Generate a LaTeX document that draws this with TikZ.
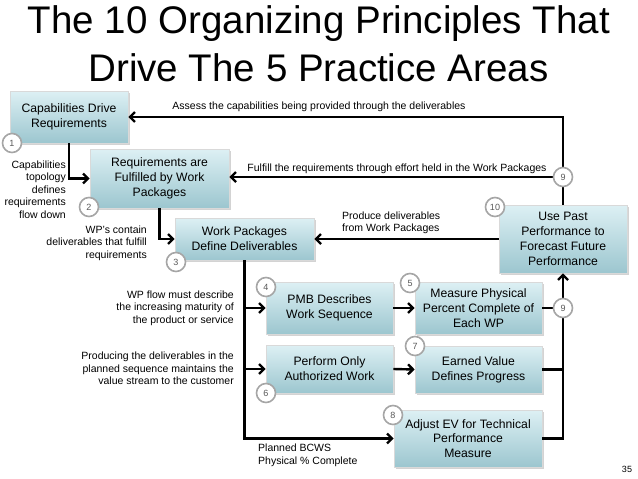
\documentclass[tikz,border=0pt]{standalone}
\usepackage{fontspec}
\setmainfont{Liberation Sans}
\usetikzlibrary{arrows.meta, shadows}

\definecolor{boxtop}{HTML}{DDF0F4}
\definecolor{boxbottom}{HTML}{9CC6CF}
\definecolor{ringgray}{HTML}{A6A6A6}

\tikzset{
    stage/.style={draw=white!70!gray, line width=0.6pt,
        top color=boxtop, bottom color=boxbottom,
        drop shadow={opacity=0.35, shadow xshift=1.5pt, shadow yshift=-1.5pt},
        align=center, inner sep=0pt,
        font=\fontsize{12.2}{14.8}\selectfont},
    num/.style={circle, draw=ringgray, line width=1.6pt, fill=white,
        minimum size=19pt, inner sep=0pt,
        font=\fontsize{9}{9}\selectfont, text=black!65},
    note/.style={font=\fontsize{10.5}{12.5}\selectfont, inner sep=0pt},
    flow/.style={line width=2.4pt, -{Straight Barb[length=5pt,width=10pt]}},
    link/.style={line width=2.4pt},
}

\begin{document}
\begin{tikzpicture}[x=1pt, y=-1pt]
    \useasboundingbox (0,0) rectangle (638,479);

    % title
    \node[anchor=base, font=\fontsize{38.5}{46}\selectfont] (title1) at (319,34)
        {The 10 Organizing Principles That};
    \node[anchor=base, font=\fontsize{38.5}{46}\selectfont] (title2) at (318.5,81)
        {Drive The 5 Practice Areas};

    % the ten principles
    \node[stage, minimum width=118pt, minimum height=52pt] (capab) at (69,117)
        {Capabilities Drive\\Requirements};
    \node[stage, minimum width=139pt, minimum height=59pt] (reqs) at (159.5,178.5)
        {Requirements are\\Fulfilled by Work\\Packages};
    \node[stage, minimum width=139pt, minimum height=42pt] (wpkg) at (244.5,239)
        {Work Packages\\Define Deliverables};
    \node[stage, minimum width=128pt, minimum height=68pt] (forecast) at (563,239)
        {Use Past\\Performance to\\Forecast Future\\Performance};
    \node[stage, minimum width=127pt, minimum height=52pt] (pmb) at (329.5,308)
        {PMB Describes\\Work Sequence};
    \node[stage, minimum width=127pt, minimum height=52pt] (physical) at (478.5,308)
        {Measure Physical\\Percent Complete of\\Each WP};
    \node[stage, minimum width=127pt, minimum height=48pt] (authwork) at (329.5,369)
        {Perform Only\\Authorized Work};
    \node[stage, minimum width=127pt, minimum height=47pt] (earned) at (478.5,369.5)
        {Earned Value\\Defines Progress};
    \node[stage, minimum width=148pt, minimum height=57pt] (techperf) at (468,438.5)
        {Adjust EV for Technical\\Performance\\Measure};

    % connectors
    \draw[flow] (forecast.north) |- (capab.east);
    \draw[flow] (563,177) -- (563,177 -| reqs.east);
    \draw[flow] (forecast.west) -- (wpkg.east);
    \draw[flow] (capab.south) |- (reqs.west);
    \draw[flow] (reqs.south) |- (wpkg.west);
    \draw[flow] (wpkg.south) |- (techperf.west);
    \draw[flow] (wpkg.south |- pmb.west) -- (pmb.west);
    \draw[flow] (wpkg.south |- authwork.west) -- (authwork.west);
    \draw[flow] (pmb.east) -- (physical.west);
    \draw[flow] (authwork.east) -- (earned.west);
    \draw[link] (physical.east) -- (physical.east -| forecast.south);
    \draw[link] (earned.east) -- (earned.east -| forecast.south);
    \draw[flow] (techperf.east) -| (forecast.south);

    % numbers
    \node[num] (n1) at (12,143) {1};
    \node[num] (n2) at (89,207) {2};
    \node[num] (n3) at (176,262) {3};
    \node[num] (n4) at (266,287) {4};
    \node[num] (n5) at (410,283) {5};
    \node[num] (n6) at (266,393) {6};
    \node[num] (n7) at (415,346) {7};
    \node[num] (n8) at (393,415) {8};
    \node[num] (n9a) at (563,177) {9};
    \node[num] (n9b) at (563,308) {9};
    \node[num] (n10) at (495,207) {10};

    % notes
    \node[note] (assess) at (319,107)
        {Assess the capabilities being provided through the deliverables};
    \node[note] (fulfill) at (397,169)
        {Fulfill the requirements through effort held in the Work Packages};
    \node[note, anchor=west, align=left] (produce) at (342,223)
        {Produce deliverables\\from Work Packages};
    \node[note, anchor=east, align=right] (topology) at (66,189.5)
        {Capabilities\\topology\\defines\\requirements\\flow down};
    \node[note, anchor=east, align=right] (contain) at (147,243)
        {WP's contain\\deliverables that fulfill\\requirements};
    \node[note, anchor=east, align=right] (maturity) at (234,308)
        {WP flow must describe\\the increasing maturity of\\the product or service};
    \node[note, anchor=east, align=right] (stream) at (234,368.5)
        {Producing the deliverables in the\\planned sequence maintains the\\value stream to the customer};
    \node[note, anchor=west, align=left] (bcws) at (258,455.5)
        {Planned BCWS\\Physical \% Complete};
    \node[font=\fontsize{9}{9}\selectfont] (pageno) at (627,469) {35};
\end{tikzpicture}
\end{document}
